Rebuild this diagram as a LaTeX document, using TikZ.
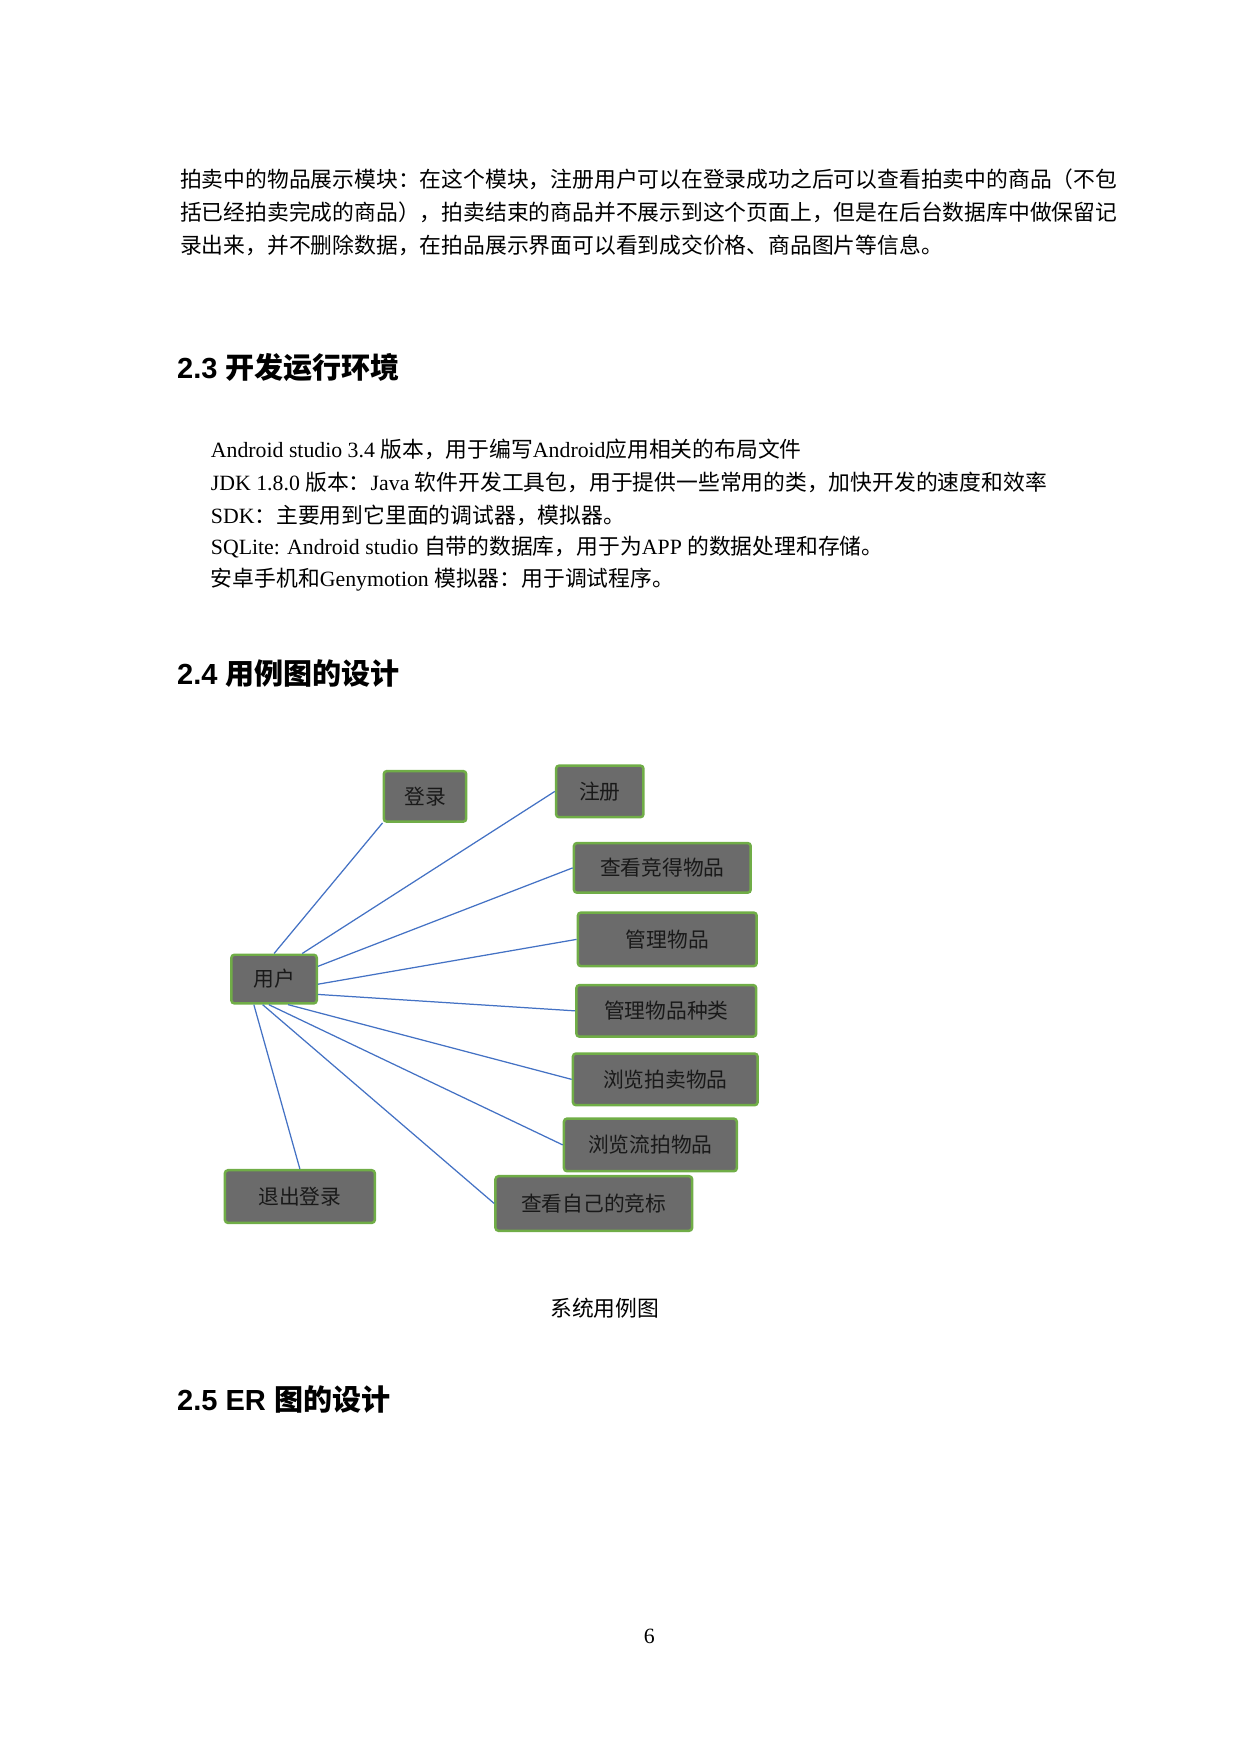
\documentclass[tikz,border=0pt]{standalone}
\usepackage{fontspec}
\setmainfont{Liberation Serif}
\newfontfamily\cjk{Noto Sans CJK SC}
\newfontfamily\cjkb{Noto Sans CJK SC Bold}
\newfontfamily\hsans{Liberation Sans}
\usetikzlibrary{calc}
\definecolor{boxfill}{HTML}{6B6B6B}
\definecolor{boxline}{HTML}{70AD47}
\definecolor{conn}{HTML}{4472C4}
\begin{document}
\begin{tikzpicture}[x=0.016816cm,y=-0.016816cm,
  uc/.style={draw=boxline,line width=1.2pt,fill=boxfill,rounded corners=1.5pt,
    inner sep=0pt,font=\cjk\fontsize{10}{12}\selectfont,text=black!90},
  sz/.style 2 args={minimum width=#1*0.4786pt,minimum height=#2*0.4786pt},
  ln/.style={conn,line width=0.6pt},
  body/.style={anchor=west,inner sep=0pt,font=\fontsize{10.5}{12}\selectfont},
  head/.style={anchor=west,inner sep=0pt,font=\fontsize{14}{17}\selectfont}]
\useasboundingbox (0,0) rectangle (1248.7,1766.4);
\node[body] (p1) at (181,181) {\cjk 拍卖中的物品展示模块：在这个模块，注册用户可以在登录成功之后可以查看拍卖中的商品（不包};
\node[body] (p2) at (181,214) {\cjk 括已经拍卖完成的商品），拍卖结束的商品并不展示到这个页面上，但是在后台数据库中做保留记};
\node[body] (p3) at (181,247) {\cjk 录出来，并不删除数据，在拍品展示界面可以看到成交价格、商品图片等信息。};
\node[head] (h23) at (178,370) {\hsans\bfseries 2.3 \cjkb 开发运行环境};
\node[body] (l1) at (212,453) {Android studio 3.4 {\cjk 版本，用于编写}Android{\cjk 应用相关的布局文件}};
\node[body] (l2) at (212,486) {JDK 1.8.0 {\cjk 版本：}Java {\cjk 软件开发工具包，用于提供一些常用的类，加快开发的速度和效率}};
\node[body] (l3) at (212,519) {SDK{\cjk ：主要用到它里面的调试器，模拟器。}};
\node[body] (l4) at (212,551) {SQLite: Android studio {\cjk 自带的数据库，用于为}APP {\cjk 的数据处理和存储。}};
\node[body] (l5) at (212,584) {{\cjk 安卓手机和}Genymotion {\cjk 模拟器：用于调试程序。}};
\node[head] (h24) at (178,678) {\hsans\bfseries 2.4 \cjkb 用例图的设计};

\node[uc,sz={86}{49}] (u) at (276,986) {用户};
\node[uc,sz={83}{51}] (dl) at (428,802) {登录};
\node[uc,sz={88}{52}] (zc) at (604,797) {注册};
\node[uc,sz={178}{50}] (jd) at (667,874) {查看竞得物品};
\node[uc,sz={180}{54}] (gl) at (672,946) {管理物品};
\node[uc,sz={181}{52}] (zl) at (671,1018) {管理物品种类};
\node[uc,sz={186}{52}] (pm) at (670,1087) {浏览拍卖物品};
\node[uc,sz={174}{53}] (lp) at (655,1153) {浏览流拍物品};
\node[uc,sz={198}{55}] (zj) at (598,1212) {查看自己的竞标};
\node[uc,sz={151}{53}] (tc) at (302,1205) {退出登录};

\draw[ln] (u.north) -- (dl.south west);
\draw[ln] ($(u.north west)!0.82!(u.north east)$) -- (zc.west);
\draw[ln] ($(u.north east)!0.25!(u.south east)$) -- (jd.west);
\draw[ln] ($(u.north east)!0.6!(u.south east)$) -- (gl.west);
\draw[ln] ($(u.north east)!0.8!(u.south east)$) -- (zl.west);
\draw[ln] ($(u.south west)!0.66!(u.south east)$) -- (pm.west);
\draw[ln] ($(u.south west)!0.44!(u.south east)$) -- (lp.west);
\draw[ln] ($(u.south west)!0.37!(u.south east)$) -- (zj.west);
\draw[ln] ($(u.south west)!0.27!(u.south east)$) -- (tc.north);

\node[inner sep=0pt,font=\cjk\fontsize{10.5}{12}\selectfont] (cap) at (609,1317) {系统用例图};
\node[head] (h25) at (178,1409) {\hsans\bfseries 2.5 ER \cjkb 图的设计};
\node[inner sep=0pt,font=\fontsize{10.5}{12}\selectfont] (pg) at (654,1648) {6};
\end{tikzpicture}
\end{document}
